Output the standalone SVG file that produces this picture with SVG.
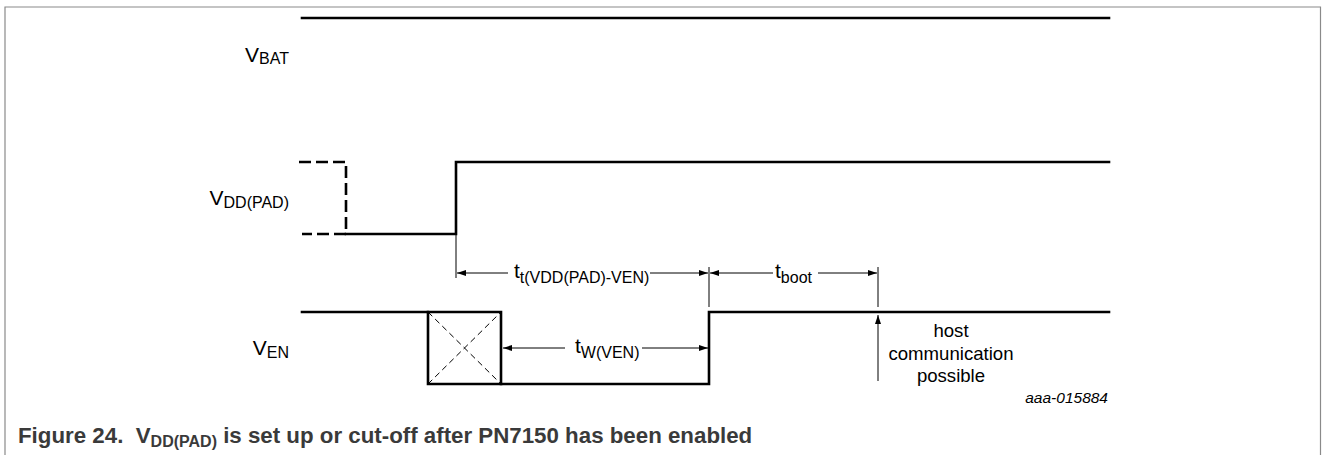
<svg xmlns="http://www.w3.org/2000/svg" width="1328" height="455" viewBox="0 0 1328 455">
<style>
.frame{fill:none;stroke:#8a8a8a;stroke-width:1.2}
.sig{fill:none;stroke:#000;stroke-width:2.6;stroke-linecap:square}
.sigd{fill:none;stroke:#000;stroke-width:2.6;stroke-dasharray:12 5}
.thin{fill:none;stroke:#000;stroke-width:1}
.diag{fill:none;stroke:#000;stroke-width:1;stroke-dasharray:6 4}
.arr{fill:none;stroke:#000;stroke-width:1;marker-end:url(#ah)}
.lbl{font-family:"Liberation Sans",Arial,sans-serif;font-size:21px;fill:#000}
.sub{font-size:16px}
.note{font-family:"Liberation Sans",Arial,sans-serif;font-size:18.6px;fill:#000;text-anchor:middle}
.code{font-family:"Liberation Sans",Arial,sans-serif;font-size:15.5px;font-style:italic;fill:#000;text-anchor:end}
.cap{font-family:"Liberation Sans",Arial,sans-serif;font-size:22.3px;font-weight:bold;fill:#3a3a3a}
</style>
<defs>
<marker id="ah" markerUnits="userSpaceOnUse" markerWidth="9" markerHeight="6" refX="9" refY="3" orient="auto">
<path d="M0,0 L9,3 L0,6 z" fill="#000"/>
</marker>
</defs>
<path class="frame" d="M5,455 V7 H1320.5 V455"/>

<g id="vbat">
<line class="sig" x1="302" y1="18" x2="1109" y2="18"/>
<text class="lbl" x="289" y="62" text-anchor="end">V<tspan class="sub" dy="2">BAT</tspan></text>
</g>

<g id="vddpad">
<path class="sigd" d="M299,162 H346 V234 H302"/>
<path class="sig" d="M346,234 H456 V162 H1109"/>
<text class="lbl" x="289" y="205" text-anchor="end">V<tspan class="sub" dy="3">DD(PAD)</tspan></text>
</g>

<g id="ven">
<path class="sig" d="M302,312 H428 V384 H709 V312 H1109"/>
<path class="sig" d="M428,312 H501 V384"/>
<line class="diag" x1="428" y1="312" x2="501" y2="384"/>
<line class="diag" x1="428" y1="384" x2="501" y2="312"/>
<text class="lbl" x="289" y="355" text-anchor="end">V<tspan class="sub" dy="3">EN</tspan></text>
</g>

<g id="connectors">
<line class="thin" x1="456" y1="234" x2="456" y2="278"/>
<line class="thin" x1="709" y1="267" x2="709" y2="307"/>
<line class="thin" x1="878" y1="267" x2="878" y2="307"/>
<line class="arr" x1="508" y1="273" x2="457" y2="273"/>
<line class="arr" x1="650" y1="273" x2="708" y2="273"/>
<line class="arr" x1="773" y1="273" x2="710" y2="273"/>
<line class="arr" x1="818" y1="273" x2="877" y2="273"/>
<line class="arr" x1="565" y1="348" x2="503" y2="348"/>
<line class="arr" x1="642" y1="348" x2="708" y2="348"/>
<line class="arr" x1="878" y1="381" x2="878" y2="315"/>
</g>

<g id="labels">
<text class="lbl" x="514" y="278">t<tspan class="sub" dy="5">t(VDD(PAD)-VEN)</tspan></text>
<text class="lbl" x="775" y="278">t<tspan class="sub" dy="5">boot</tspan></text>
<text class="lbl" x="575" y="353">t<tspan class="sub" dy="5">W(VEN)</tspan></text>
<text class="note" x="951" y="337">host</text>
<text class="note" x="951" y="360">communication</text>
<text class="note" x="951" y="382">possible</text>
<text class="code" x="1108" y="403">aaa-015884</text>
</g>

<text class="cap" x="18" y="443">Figure 24.&#160; V<tspan font-size="16" dy="4">DD(PAD)</tspan><tspan dy="-4"> is set up or cut-off after PN7150 has been enabled</tspan></text>
</svg>
